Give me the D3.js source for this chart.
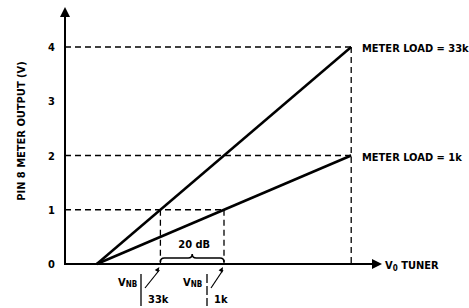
<!DOCTYPE html>
<html>
<head>
<meta charset="utf-8">
<script src="https://cdn.jsdelivr.net/npm/d3@7"></script>
<style>
  html, body { margin: 0; padding: 0; background: #fff; }
  svg { display: block; }
  text { font-family: "Liberation Sans Narrow", "DejaVu Sans Condensed", "Arial Narrow", sans-serif; font-weight: bold; fill: #000; }
</style>
</head>
<body>
<svg id="chart" width="469" height="308"></svg>
<script>
// ---- data ----
const yTicks = [0, 1, 2, 3, 4];
const yTickLabels = ["0", "1", "2", "3", "4"];
const series = ["METER LOAD = 33k", "METER LOAD = 1k"];
const load33k = [[1, 0], [9, 4]];
const load1k = [[1, 0], [9, 2]];
const vnb33k = 3;   // x where 33k line reaches 1 V
const vnb1k = 5;    // x where 1k line reaches 1 V
const xEnd = 9;

const svg = d3.select("#chart");
const x = d3.scaleLinear().domain([0, 10]).range([65, 383]);
const y = d3.scaleLinear().domain([0, 4]).range([264, 47]);

// dashed guides
const dash = "6,4";
const guides = [
  [[0, 4], [xEnd, 4]],
  [[0, 2], [xEnd, 2]],
  [[0, 1], [vnb1k, 1]],
  [[xEnd, 4], [xEnd, 0]],
  [[vnb33k, 1], [vnb33k, 0]],
  [[vnb1k, 1], [vnb1k, 0]]
];
const line = d3.line().x(d => x(d[0])).y(d => y(d[1]));
svg.selectAll("path.guide").data(guides).join("path")
  .attr("class", "guide")
  .attr("d", line)
  .attr("fill", "none").attr("stroke", "#000")
  .attr("stroke-width", 1.3).attr("stroke-dasharray", dash);

// axes
const x0 = x(0), y0 = y(0);
svg.append("line").attr("x1", x0).attr("y1", y0 + 1).attr("x2", x0).attr("y2", 16)
  .attr("stroke", "#000").attr("stroke-width", 2);
svg.append("path").attr("d", `M${x0 - 5},17 L${x0 + 5},17 L${x0},7 Z`).attr("fill", "#000");
svg.append("line").attr("x1", x0 - 1).attr("y1", y0).attr("x2", 373).attr("y2", y0)
  .attr("stroke", "#000").attr("stroke-width", 2);
svg.append("path").attr("d", `M372,${y0 - 5} L372,${y0 + 5} L382,${y0} Z`).attr("fill", "#000");

// y tick labels
svg.selectAll("text.ytick").data(yTicks).join("text")
  .attr("class", "ytick")
  .attr("x", 55).attr("y", d => y(d) + 4)
  .attr("text-anchor", "end").attr("font-size", 11)
  .text((d, i) => yTickLabels[i]);

// y axis title
svg.append("text")
  .attr("transform", "translate(25,131) rotate(-90)")
  .attr("text-anchor", "middle").attr("font-size", 11)
  .text("PIN 8 METER OUTPUT (V)");

// data lines
svg.selectAll("path.series").data([load33k, load1k]).join("path")
  .attr("class", "series")
  .attr("d", line)
  .attr("fill", "none").attr("stroke", "#000").attr("stroke-width", 2.5);

// series labels
svg.append("text").attr("x", 362).attr("y", y(4) + 5).attr("font-size", 11).text(series[0]);
svg.append("text").attr("x", 362).attr("y", y(2) + 5).attr("font-size", 11).text(series[1]);

// x axis label
const xl = svg.append("text").attr("x", 385).attr("y", y0 + 5).attr("font-size", 11);
xl.append("tspan").text("V");
xl.append("tspan").attr("font-size", 8).attr("dy", 2).text("0");
xl.append("tspan").attr("dy", -2).text(" TUNER");

// 20 dB brace
const bx1 = x(vnb33k), bx2 = x(vnb1k), bm = (bx1 + bx2) / 2;
svg.append("path")
  .attr("d", `M${bx1},262 Q${bx1},258 ${bx1 + 4},258 L${bm - 4},258 Q${bm},258 ${bm},254 Q${bm},258 ${bm + 4},258 L${bx2 - 4},258 Q${bx2},258 ${bx2},262`)
  .attr("fill", "none").attr("stroke", "#000").attr("stroke-width", 1.6);
svg.append("text").attr("x", bm + 2).attr("y", 248).attr("text-anchor", "middle")
  .attr("font-size", 11).text("20 dB");

// VNB annotations
function vnbNote(xv, labelRight, labelX, barX, dashedBar) {
  const t = svg.append("text").attr("x", labelX).attr("y", 286).attr("font-size", 11);
  t.append("tspan").text("V");
  t.append("tspan").attr("font-size", 8).attr("dy", 1).text("NB");
  svg.append("line").attr("x1", barX).attr("x2", barX).attr("y1", 274).attr("y2", 306)
    .attr("stroke", "#000").attr("stroke-width", 1.3)
    .attr("stroke-dasharray", dashedBar ? "9,3" : null);
  const tipX = x(xv) - 1, tipY = y0 + 3;
  const sx = barX + 4, sy = 288;
  svg.append("line").attr("x1", sx).attr("y1", sy).attr("x2", tipX).attr("y2", tipY + 3)
    .attr("stroke", "#000").attr("stroke-width", 1.2);
  const ang = Math.atan2(tipY - sy, tipX - sx);
  const L = 5, W = 2.2;
  const bxp = tipX - L * Math.cos(ang), byp = tipY - L * Math.sin(ang);
  svg.append("path")
    .attr("d", `M${tipX},${tipY} L${bxp + W * Math.sin(ang)},${byp - W * Math.cos(ang)} L${bxp - W * Math.sin(ang)},${byp + W * Math.cos(ang)} Z`)
    .attr("fill", "#000");
  svg.append("text").attr("x", barX + 7).attr("y", 303).attr("font-size", 11).text(labelRight);
}
vnbNote(vnb33k, "33k", 118, 141, false);
vnbNote(vnb1k, "1k", 183, 207, true);
</script>
</body>
</html>
